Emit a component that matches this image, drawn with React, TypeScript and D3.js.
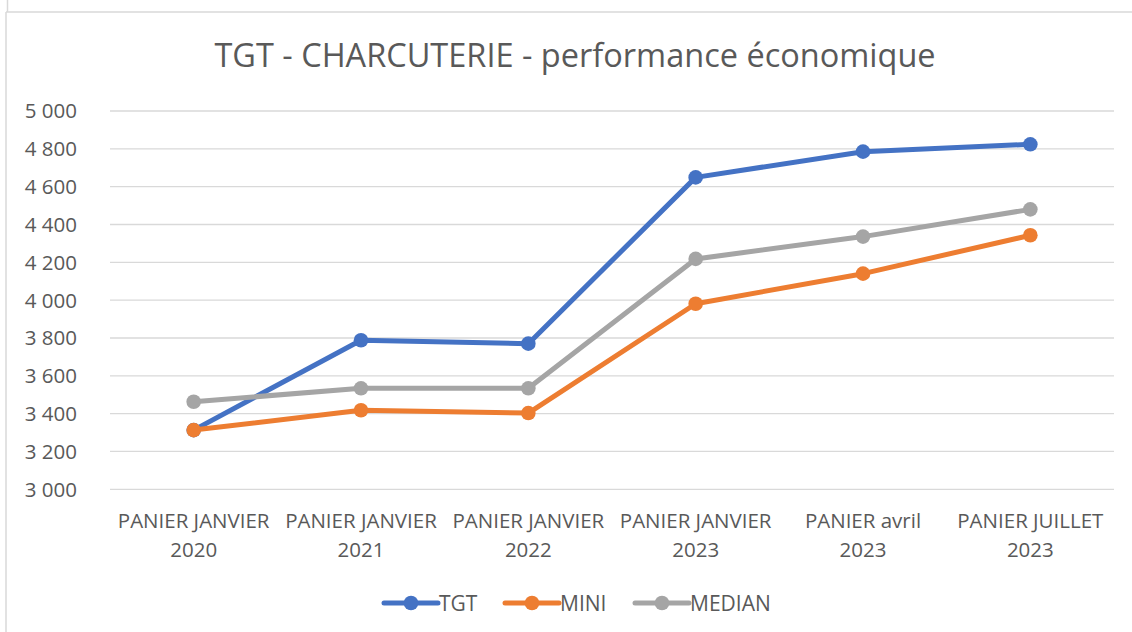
import React from "react";
import * as d3 from "d3";

const categories = [
  ["PANIER JANVIER", "2020"],
  ["PANIER JANVIER", "2021"],
  ["PANIER JANVIER", "2022"],
  ["PANIER JANVIER", "2023"],
  ["PANIER avril", "2023"],
  ["PANIER JUILLET", "2023"],
];
const tgt = [3313, 3788, 3770, 4649, 4785, 4824];
const mini = [3313, 3418, 3403, 3981, 4140, 4343];
const median = [3463, 3534, 3534, 4218, 4336, 4480];
const yTicks = [3000, 3200, 3400, 3600, 3800, 4000, 4200, 4400, 4600, 4800, 5000];
const seriesNames = ["TGT", "MINI", "MEDIAN"];
const seriesColors = ["#4472C4", "#ED7D31", "#A5A5A5"];

const W = 1132;
const H = 632;
const FONT = "'Open Sans', 'Noto Sans', sans-serif";

export default function App() {
  const x = d3
    .scaleBand<number>()
    .domain(d3.range(categories.length))
    .range([110, 1114]);
  const y = d3.scaleLinear().domain([3000, 5000]).range([489.3, 111]);
  const fmt = (v: number) => d3.format(",")(v).replace(",", " ");
  const cx = (i: number) => (x(i) as number) + x.bandwidth() / 2;
  const line = d3
    .line<number>()
    .x((_, i) => cx(i))
    .y((d) => y(d));
  const series = [tgt, mini, median];
  const legendX = [382, 503, 633];

  return (
    <svg
      width={W}
      height={H}
      style={{ position: "absolute", left: 0, top: 0, background: "#fff" }}
      fontFamily={FONT}
    >
      <rect x={0} y={0} width={W} height={H} fill="#fff" />
      <line x1={7.5} x2={7.5} y1={0} y2={12} stroke="#D9D9D9" strokeWidth={1.5} />
      <line x1={6} x2={W} y1={12} y2={12} stroke="#D9D9D9" strokeWidth={1.5} />
      <line x1={6} x2={6} y1={12} y2={H} stroke="#D9D9D9" strokeWidth={1.5} />
      <text x={575} y={67} textAnchor="middle" fontSize={32.5} fill="#595959">
        TGT - CHARCUTERIE - performance économique
      </text>
      {yTicks.map((t) => (
        <g key={t}>
          <line
            x1={110}
            x2={1114}
            y1={y(t)}
            y2={y(t)}
            stroke="#D9D9D9"
            strokeWidth={1.3}
          />
          <text
            x={77}
            y={y(t)}
            dy="0.36em"
            textAnchor="end"
            fontSize={20.5}
            fill="#595959"
          >
            {fmt(t)}
          </text>
        </g>
      ))}
      {categories.map((c, i) => (
        <text key={i} textAnchor="middle" fontSize={20.5} fill="#595959">
          <tspan x={cx(i)} y={528}>
            {c[0]}
          </tspan>
          <tspan x={cx(i)} y={557}>
            {c[1]}
          </tspan>
        </text>
      ))}
      {series.map((s, k) => (
        <g key={k}>
          <path
            d={line(s) || ""}
            fill="none"
            stroke={seriesColors[k]}
            strokeWidth={5}
            strokeLinejoin="round"
            strokeLinecap="round"
          />
          {s.map((v, i) => (
            <circle key={i} cx={cx(i)} cy={y(v)} r={7.3} fill={seriesColors[k]} />
          ))}
        </g>
      ))}
      {seriesNames.map((n, k) => (
        <g key={n}>
          <line
            x1={legendX[k] + 2}
            x2={legendX[k] + 56}
            y1={603}
            y2={603}
            stroke={seriesColors[k]}
            strokeWidth={5}
            strokeLinecap="round"
          />
          <circle cx={legendX[k] + 29} cy={603} r={7.3} fill={seriesColors[k]} />
          <text
            x={legendX[k] + 57}
            y={603}
            dy="0.36em"
            fontSize={21}
            fill="#595959"
          >
            {n}
          </text>
        </g>
      ))}
    </svg>
  );
}
